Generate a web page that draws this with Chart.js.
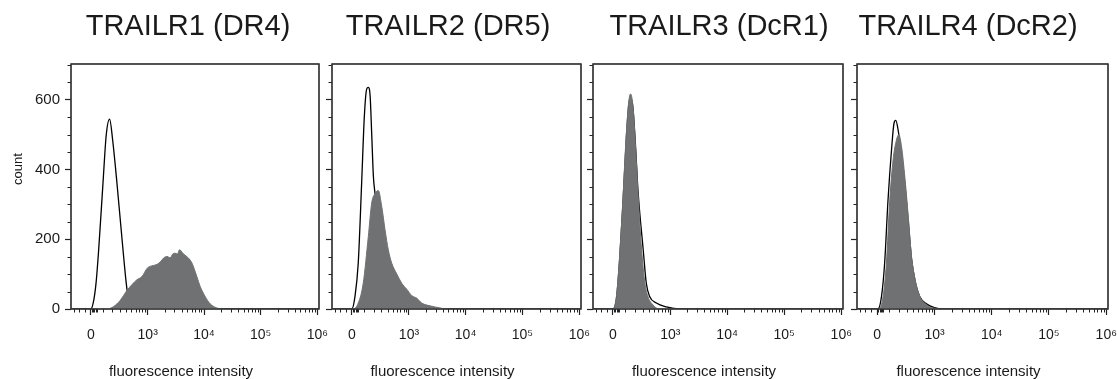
<!DOCTYPE html>
<html><head><meta charset="utf-8">
<script src="https://cdn.jsdelivr.net/npm/chart.js@4.4.0/dist/chart.umd.min.js"></script>
<style>
html,body{margin:0;padding:0;background:#fff;overflow:hidden}
#wrap{position:relative;width:1117px;height:379px}
canvas{position:absolute;left:0;top:0}
</style></head><body><div id="wrap">
<canvas id="c0" width="1117" height="379"></canvas>
<canvas id="c1" width="1117" height="379"></canvas>
<canvas id="c2" width="1117" height="379"></canvas>
<canvas id="c3" width="1117" height="379"></canvas>
</div>
<script>
// ---------- data ----------
const panelTitles = ['TRAILR1 (DR4)', 'TRAILR2 (DR5)', 'TRAILR3 (DcR1)', 'TRAILR4 (DcR2)'];
const xAxisTitle = 'fluorescence intensity';
const yAxisTitle = 'count';
const xTickValues = [0, 1e3, 1e4, 1e5, 1e6];
const xTickLabels = ['0', '10³', '10⁴', '10⁵', '10⁶'];
const yTickValues = [0, 200, 400, 600];
const yTickLabels = ['0', '200', '400', '600'];
const xMinorTicks = [-150, -100, -50, 10, 20, 30, 40, 50, 100, 200, 300, 400, 500, 600, 700, 800, 900,
  2e3, 3e3, 4e3, 5e3, 6e3, 7e3, 8e3, 9e3, 2e4, 3e4, 4e4, 5e4, 6e4, 7e4, 8e4, 9e4,
  2e5, 3e5, 4e5, 5e5, 6e5, 7e5, 8e5, 9e5];
const yMinorTicks = [50, 100, 150, 250, 300, 350, 450, 500, 550, 650, 700];

// isotype control (open line) and stained (filled) histograms
const dr4IsoIntensity = [0, 20, 43, 65, 103, 134, 168, 204, 255, 343, 398, 443, 518, 615];
const dr4IsoCount     = [0, 18, 75, 170, 361, 500, 545, 480, 361, 170, 75, 25, 5, 0];
const dr4StainIntensity = [141, 213, 301, 411, 515, 637, 787, 980, 1200, 1470, 1700, 1920, 2210, 2520, 2800, 3090, 3400, 3680, 4330, 5310, 6100, 7460, 8530, 10450, 12800, 16800, 21700];
const dr4StainCount     = [0, 7, 25, 53, 70, 84, 93, 117, 124, 128, 136, 146, 151, 147, 158, 160, 158, 170, 158, 146, 132, 93, 65, 36, 15, 3, 0];

const dr5IsoIntensity = [0, 25, 52, 81, 105, 127, 143, 162, 178, 197, 219, 263, 305, 358, 424];
const dr5IsoCount     = [0, 36, 132, 361, 552, 631, 636, 609, 504, 380, 323, 170, 55, 5, 0];
const dr5StainIntensity = [11, 52, 95, 143, 178, 219, 257, 305, 357, 414, 481, 598, 741, 910, 1130, 1380, 1690, 2370, 3550, 4680];
const dr5StainCount     = [0, 17, 74, 208, 304, 332, 340, 294, 227, 170, 132, 101, 74, 57, 38, 31, 17, 9, 3, 0];

const dcr1IsoIntensity = [0, 28, 54, 82, 113, 138, 155, 179, 210, 238, 309, 357, 416, 559, 850, 1480];
const dcr1IsoCount     = [0, 30, 140, 300, 490, 590, 605, 578, 460, 340, 170, 74, 36, 17, 6, 0];
const dcr1StainIntensity = [0, 28, 54, 82, 113, 138, 155, 179, 210, 238, 286, 335, 385, 481, 625];
const dcr1StainCount     = [0, 36, 151, 313, 504, 600, 617, 581, 457, 332, 170, 74, 36, 12, 0];

const dcr2IsoIntensity = [8, 36, 62, 91, 123, 147, 165, 190, 230, 272, 322, 374, 440, 540, 725, 990, 1410];
const dcr2IsoCount     = [0, 36, 132, 313, 457, 533, 541, 514, 440, 360, 250, 145, 80, 35, 14, 4, 0];
const dcr2StainIntensity = [16, 49, 77, 107, 138, 172, 198, 230, 272, 322, 374, 440, 540, 725, 935, 1410];
const dcr2StainCount     = [0, 36, 132, 313, 428, 485, 500, 466, 380, 265, 151, 84, 36, 12, 3, 0];

const isoSeries = [[dr4IsoIntensity, dr4IsoCount], [dr5IsoIntensity, dr5IsoCount], [dcr1IsoIntensity, dcr1IsoCount], [dcr2IsoIntensity, dcr2IsoCount]];
const stainSeries = [[dr4StainIntensity, dr4StainCount], [dr5StainIntensity, dr5StainCount], [dcr1StainIntensity, dcr1StainCount], [dcr2StainIntensity, dcr2StainCount]];

// ---------- layout / style ----------
const FONT = "'Liberation Sans', Arial, Helvetica, sans-serif";
const FILL = '#6f7173';
const FRAMES = [[71, 319], [332, 581], [593, 843], [857, 1108]];
const TOP = 64, BOTTOM = 309;
const TITLE_X = [188, 448, 719, 968];
const X_MIN = -0.35, X_MAX = 4.03, Y_MAX = 703;
const Y_W = 50, X_H = 50;

// biexponential-like display transform (arcsinh)
const toU = v => Math.asinh(v / 200) / Math.LN10;

function pts(pair) {
  const [xs, ys] = pair;
  const out = xs.map((v, k) => ({x: toU(v), y: ys[k]}));
  out.unshift({x: X_MIN, y: 0});
  out.push({x: X_MAX, y: 0});
  return out;
}

function nearestLabel(values, labels, v) {
  let best = 0;
  values.forEach((t, k) => { if (Math.abs(t - v) < Math.abs(values[best] - v)) best = k; });
  return labels[best];
}

function decorPlugin(i) {
  return {
    id: 'decor' + i,
    beforeDatasetsDraw(chart) {
      const {ctx, chartArea: a} = chart;
      ctx.save();
      ctx.strokeStyle = '#333';
      ctx.lineWidth = 1.2;
      ctx.strokeRect(a.left, a.top, a.right - a.left, a.bottom - a.top);
      ctx.restore();
    },
    afterDraw(chart) {
      const {ctx, chartArea: a, scales} = chart;
      ctx.save();
      ctx.strokeStyle = '#222';
      ctx.lineWidth = 1;
      ctx.beginPath();
      xMinorTicks.forEach(v => {
        const p = Math.round(scales.x.getPixelForValue(toU(v))) + 0.5;
        if (p < a.left || p > a.right) return;
        ctx.moveTo(p, a.bottom); ctx.lineTo(p, a.bottom + 3.5);
      });
      yMinorTicks.forEach(v => {
        const p = Math.round(scales.y.getPixelForValue(v)) + 0.5;
        ctx.moveTo(a.left, p); ctx.lineTo(a.left - 3.5, p);
      });
      ctx.stroke();
      ctx.strokeStyle = '#333';
      ctx.lineWidth = 1.2;
      ctx.strokeRect(a.left, a.top, a.right - a.left, a.bottom - a.top);
      // texts
      ctx.fillStyle = '#1a1a1a';
      ctx.textAlign = 'center';
      ctx.textBaseline = 'alphabetic';
      ctx.font = '29px ' + FONT;
      ctx.fillText(panelTitles[i], TITLE_X[i], 35);
      ctx.font = '15px ' + FONT;
      ctx.fillText(xAxisTitle, (a.left + a.right) / 2 - 14, 376);
      if (i === 0) {
        ctx.save();
        ctx.translate(18.5, 169);
        ctx.rotate(-Math.PI / 2);
        ctx.textBaseline = 'middle';
        ctx.font = '13px ' + FONT;
        ctx.fillText(yAxisTitle, 0, 0);
        ctx.restore();
      }
      ctx.restore();
    }
  };
}

function makeChart(i) {
  const [L, R] = FRAMES[i];
  return new Chart(document.getElementById('c' + i), {
    type: 'line',
    data: {
      datasets: [
        {data: pts(stainSeries[i]), fill: 'origin', backgroundColor: FILL, borderColor: FILL,
         borderWidth: 1, pointRadius: 0, cubicInterpolationMode: 'monotone'},
        {data: pts(isoSeries[i]), fill: false, borderColor: '#000', borderWidth: 1.3,
         pointRadius: 0, cubicInterpolationMode: 'monotone'}
      ]
    },
    options: {
      responsive: false, animation: false, events: [],
      layout: {padding: {left: L - Y_W, right: 1117 - R, top: TOP, bottom: 379 - BOTTOM - X_H}},
      plugins: {legend: {display: false}, tooltip: {enabled: false}, title: {display: false}},
      scales: {
        x: {
          type: 'linear', position: 'bottom', min: X_MIN, max: X_MAX,
          afterBuildTicks: s => { s.ticks = xTickValues.map(v => ({value: toU(v)})); },
          afterFit: s => { s.height = X_H; s.paddingLeft = 0; s.paddingRight = 0; },
          ticks: {autoSkip: false, maxRotation: 0, minRotation: 0, padding: 12, color: '#1a1a1a',
                  font: {family: FONT, size: 14},
                  callback: v => nearestLabel(xTickValues.map(toU), xTickLabels, v)},
          grid: {drawOnChartArea: false, drawTicks: true, tickLength: 6, tickColor: '#222', tickWidth: 1.2},
          border: {display: false}
        },
        y: {
          type: 'linear', position: 'left', min: 0, max: Y_MAX,
          afterBuildTicks: s => { s.ticks = yTickValues.map(v => ({value: v})); },
          afterFit: s => { s.width = Y_W; s.paddingTop = 0; s.paddingBottom = 0; },
          ticks: {display: i === 0, padding: 5, color: '#1a1a1a',
                  font: {family: FONT, size: 15},
                  callback: v => nearestLabel(yTickValues, yTickLabels, v)},
          grid: {drawOnChartArea: false, drawTicks: true, tickLength: 6, tickColor: '#222', tickWidth: 1.2},
          border: {display: false}
        }
      }
    },
    plugins: [decorPlugin(i)]
  });
}
for (let i = 0; i < 4; i++) makeChart(i);
</script>
</body></html>
